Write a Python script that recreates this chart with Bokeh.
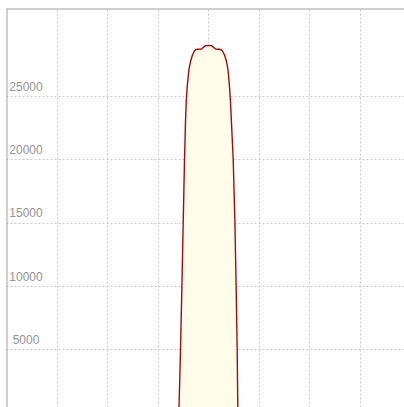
from bokeh.plotting import figure
from bokeh.models import Range1d, FixedTicker, Span, ColumnDataSource, LabelSet
from bokeh.core.properties import value
from bokeh.embed import file_html
from bokeh.resources import INLINE

# Curve
x_vals = [-0.588, -0.584, -0.554, -0.527, -0.501, -0.475, -0.455, -0.440, -0.420, -0.390,
          -0.356, -0.321, -0.285, -0.253, -0.198, -0.139, -0.059, 0.0, 0.059, 0.139,
          0.198, 0.248, 0.283, 0.321, 0.356, 0.388, 0.414, 0.434, 0.453, 0.489,
          0.523, 0.547, 0.568, 0.580, 0.584]
y_vals = [0, 442, 5024, 10000, 15055, 20033, 23112, 24692, 25877, 27063,
          27774, 28248, 28564, 28722, 28746, 28760, 29030, 29040, 29030, 28760,
          28746, 28722, 28564, 28248, 27774, 27063, 25877, 24692, 23112, 20033,
          15055, 10000, 5024, 442, 0]

ytick_vals = [5000, 10000, 15000, 20000, 25000]
ytick_labels = ["5000", "10000", "15000", "20000", "25000"]
xtick_vals = [-4, -3, -2, -1, 0, 1, 2, 3, 4]

x_start, x_end = -4.0, 3.881
y_start, y_end = 442, 31960

p = figure(width=404, height=407, output_backend="svg", toolbar_location=None,
           x_range=Range1d(x_start, x_end), y_range=Range1d(y_start, y_end),
           min_border_left=6, min_border_right=0,
           min_border_top=8, min_border_bottom=0)
p.axis.visible = False
p.outline_line_color = None
p.background_fill_color = "white"
p.border_fill_color = "white"

p.xgrid.ticker = FixedTicker(ticks=xtick_vals)
p.ygrid.ticker = FixedTicker(ticks=ytick_vals)
for g in (p.xgrid, p.ygrid):
    g.grid_line_color = "#c8c8c8"
    g.grid_line_dash = "2 2"
    g.grid_line_width = 1

p.varea(x=x_vals, y1=[0] * len(x_vals), y2=y_vals, fill_color="#fffdea")
p.line(x=x_vals, y=y_vals, line_color="#9e0d0d", line_width=1.4)

src = ColumnDataSource(dict(x=[x_start] * len(ytick_vals), y=ytick_vals, t=ytick_labels))
labels = LabelSet(x="x", y="y", text="t", source=src, x_offset=19.5, y_offset=6,
                  text_align="center", text_baseline="alphabetic", text_color="#939393",
                  text_font=value("Liberation Sans"), text_font_size="12px")
p.add_layout(labels)

p.add_layout(Span(location=x_start, dimension="height", line_color="#a0a0a0", line_width=2))
p.add_layout(Span(location=y_end, dimension="width", line_color="#a0a0a0", line_width=2))

open("out.html", "w").write(file_html(p, INLINE))
